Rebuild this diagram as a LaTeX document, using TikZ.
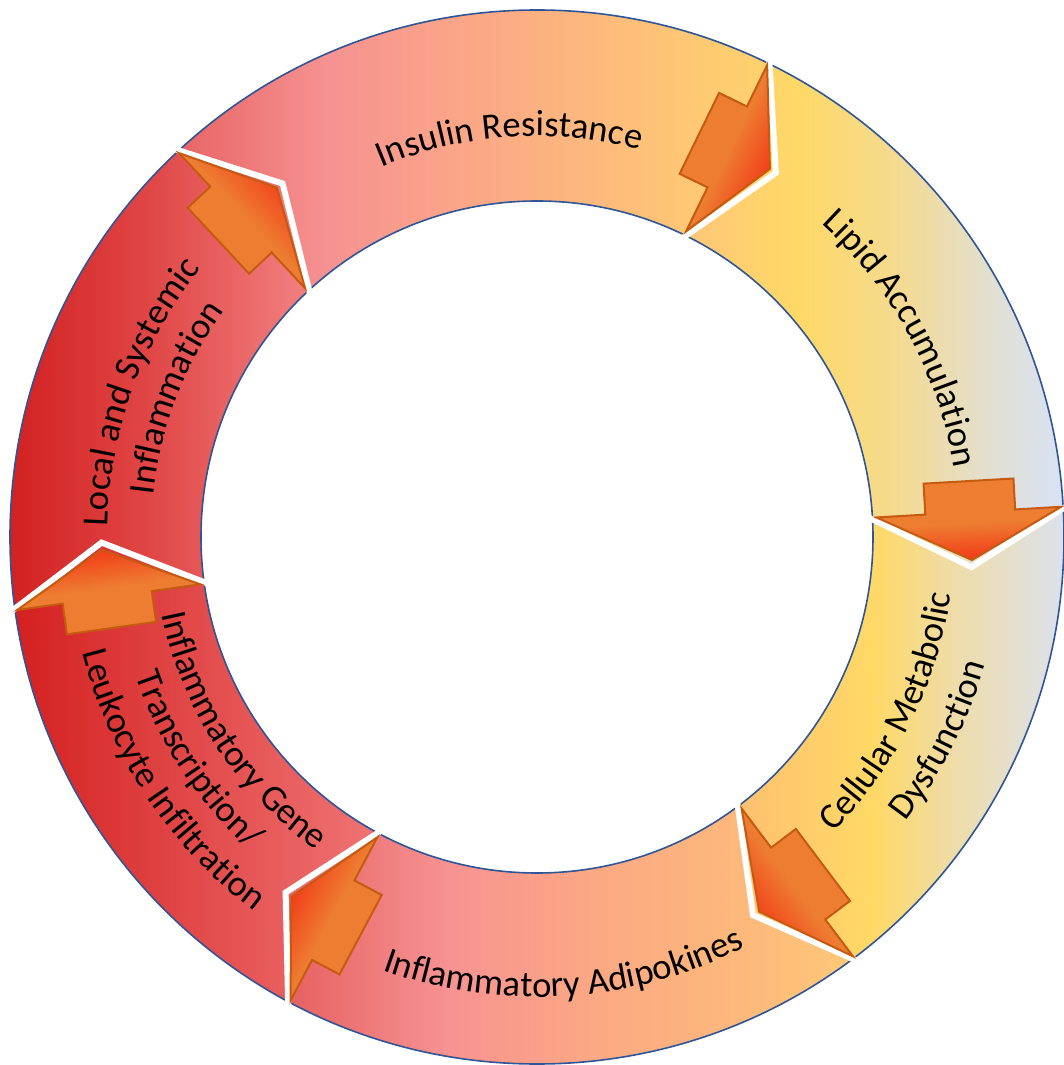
\documentclass[tikz,border=0pt]{standalone}
\usepackage{fontspec}
\setmainfont{Carlito}
\usetikzlibrary{decorations.text}

% ring geometry, in pt
\def\ringin{336}
\def\ringout{527}
\def\ringmid{435.5}
\def\notch{7.26}
\newcommand\ringfont{\fontsize{36.5}{43}\selectfont}

\definecolor{ringblue}{HTML}{2F5597}
\definecolor{arroworange}{HTML}{ED7D31}
\definecolor{arrowred}{HTML}{F23E1A}
\definecolor{arrowedge}{HTML}{C55A11}

% fills of the six ring pieces
\definecolor{insA}{HTML}{E86464}
\definecolor{insB}{HTML}{F69292}
\definecolor{insC}{HTML}{FBA886}
\definecolor{insD}{HTML}{FDBE7A}
\definecolor{insE}{HTML}{FFD46C}
\definecolor{lipA}{HTML}{FFC67A}
\definecolor{lipB}{HTML}{FFD966}
\definecolor{lipC}{HTML}{F4DA92}
\definecolor{lipD}{HTML}{E0E0D6}
\definecolor{lipE}{HTML}{D9E2F3}
\definecolor{celA}{HTML}{FFC070}
\definecolor{celB}{HTML}{FFD966}
\definecolor{celC}{HTML}{EEDCAA}
\definecolor{celD}{HTML}{DAE2F2}
\definecolor{adiA}{HTML}{E66060}
\definecolor{adiB}{HTML}{F79292}
\definecolor{adiC}{HTML}{FBA884}
\definecolor{adiD}{HTML}{FDBA7A}
\definecolor{adiE}{HTML}{FFC878}
\definecolor{genA}{HTML}{D42020}
\definecolor{genB}{HTML}{E24A4A}
\definecolor{genC}{HTML}{F07474}
\definecolor{locA}{HTML}{D01C1C}
\definecolor{locB}{HTML}{E04646}
\definecolor{locC}{HTML}{F28080}

\pgfdeclarehorizontalshading{insulinfill}{100bp}{color(0bp)=(insA); color(25bp)=(insA); color(37.5bp)=(insB); color(50bp)=(insC); color(62.5bp)=(insD); color(75bp)=(insE); color(100bp)=(insE)}
\pgfdeclarehorizontalshading{lipidfill}{100bp}{color(0bp)=(lipA); color(25bp)=(lipA); color(40bp)=(lipB); color(53.5bp)=(lipC); color(66.5bp)=(lipD); color(75bp)=(lipE); color(100bp)=(lipE)}
\pgfdeclarehorizontalshading{cellfill}{100bp}{color(0bp)=(celA); color(25bp)=(celA); color(45bp)=(celB); color(57.5bp)=(celC); color(75bp)=(celD); color(100bp)=(celD)}
\pgfdeclarehorizontalshading{adipofill}{100bp}{color(0bp)=(adiA); color(25bp)=(adiA); color(39bp)=(adiB); color(52bp)=(adiC); color(66bp)=(adiD); color(75bp)=(adiE); color(100bp)=(adiE)}
\pgfdeclarehorizontalshading{genefill}{100bp}{color(0bp)=(genA); color(25bp)=(genA); color(50bp)=(genB); color(75bp)=(genC); color(100bp)=(genC)}
\pgfdeclarehorizontalshading{localfill}{100bp}{color(0bp)=(locA); color(25bp)=(locA); color(50bp)=(locB); color(75bp)=(locC); color(100bp)=(locC)}
% arrows: orange body, red towards the point
\pgfdeclareverticalshading{arrowfill}{100bp}{color(0bp)=(arroworange); color(52bp)=(arroworange); color(72bp)=(arrowred); color(100bp)=(arrowred)}

\tikzset{
	ringline/.style={draw=ringblue, line width=1.6},
	gapline/.style={draw=white, line width=6},
	cyclearrow/.style={draw=arrowedge, line width=2, line join=miter, shading=arrowfill},
	ringtext/.style={decorate, decoration={text along path,
		text={|\ringfont|#1}, text align=center}}
}

\begin{document}
\begin{tikzpicture}[x=1pt, y=1pt]
	\useasboundingbox (-537,-528) rectangle (526,537);

	% ring pieces, clockwise from the top
	\foreach \a/\b/\sh in {133/64/insulinfill, 64/3.3/lipidfill, 3.3/-53/cellfill,
		-53/-118/adipofill, 242/188/genefill, 188/133/localfill}
		\shade[shading=\sh] (\a:\ringout) arc[start angle=\a, end angle=\b, radius=\ringout]
			-- ({\b-\notch}:\ringmid) -- (\b:\ringin)
			arc[start angle=\b, end angle=\a, radius=\ringin]
			-- ({\a-\notch}:\ringmid) -- cycle;

	\draw[ringline] (0,0) circle[radius=\ringout];
	\draw[ringline] (0,0) circle[radius=\ringin];

	% white joints and block arrows
	\foreach \g in {64,3.3,-53,-118,188,133}{
		\pgfmathsetmacro\sang{\g-180}
		\draw[gapline] (\g:{\ringin-3}) -- ({\g-\notch}:\ringmid) -- (\g:{\ringout+3});
		\shade[cyclearrow, shading angle=\sang] (\g:340) -- ({\g-6.33}:435.6) -- (\g:525)
			-- (\g:479) -- ({\g+3.7}:480) -- ({\g+4.56}:390.2) -- (\g:389) -- cycle;
	}

	% labels
	\path[ringtext={Insulin Resistance}] (124:401) arc[start angle=124, end angle=64, radius=401];
	\path[ringtext={Lipid Accumulation}] (58.6:423) arc[start angle=58.6, end angle=-1.4, radius=423];
	\path[ringtext={Cellular Metabolic}] (-56.4:418) arc[start angle=-56.4, end angle=3.6, radius=418];
	\path[ringtext={Dysfunction}] (-56.8:466) arc[start angle=-56.8, end angle=3.2, radius=466];
	\path[ringtext={Inflammatory Adipokines}] (-116.4:460) arc[start angle=-116.4, end angle=-56.4, radius=460];
	\path[ringtext={Inflammatory Gene}] (183.2:383) arc[start angle=183.2, end angle=243.2, radius=383];
	\path[ringtext={Transcription/}] (183.2:425) arc[start angle=183.2, end angle=243.2, radius=425];
	\path[ringtext={Leukocyte Infiltration}] (183.6:469) arc[start angle=183.6, end angle=243.6, radius=469];
	\path[ringtext={Local and Systemic}] (190:430) arc[start angle=190, end angle=130, radius=430];
	\path[ringtext={Inflammation}] (188.9:386) arc[start angle=188.9, end angle=128.9, radius=386];
\end{tikzpicture}
\end{document}
